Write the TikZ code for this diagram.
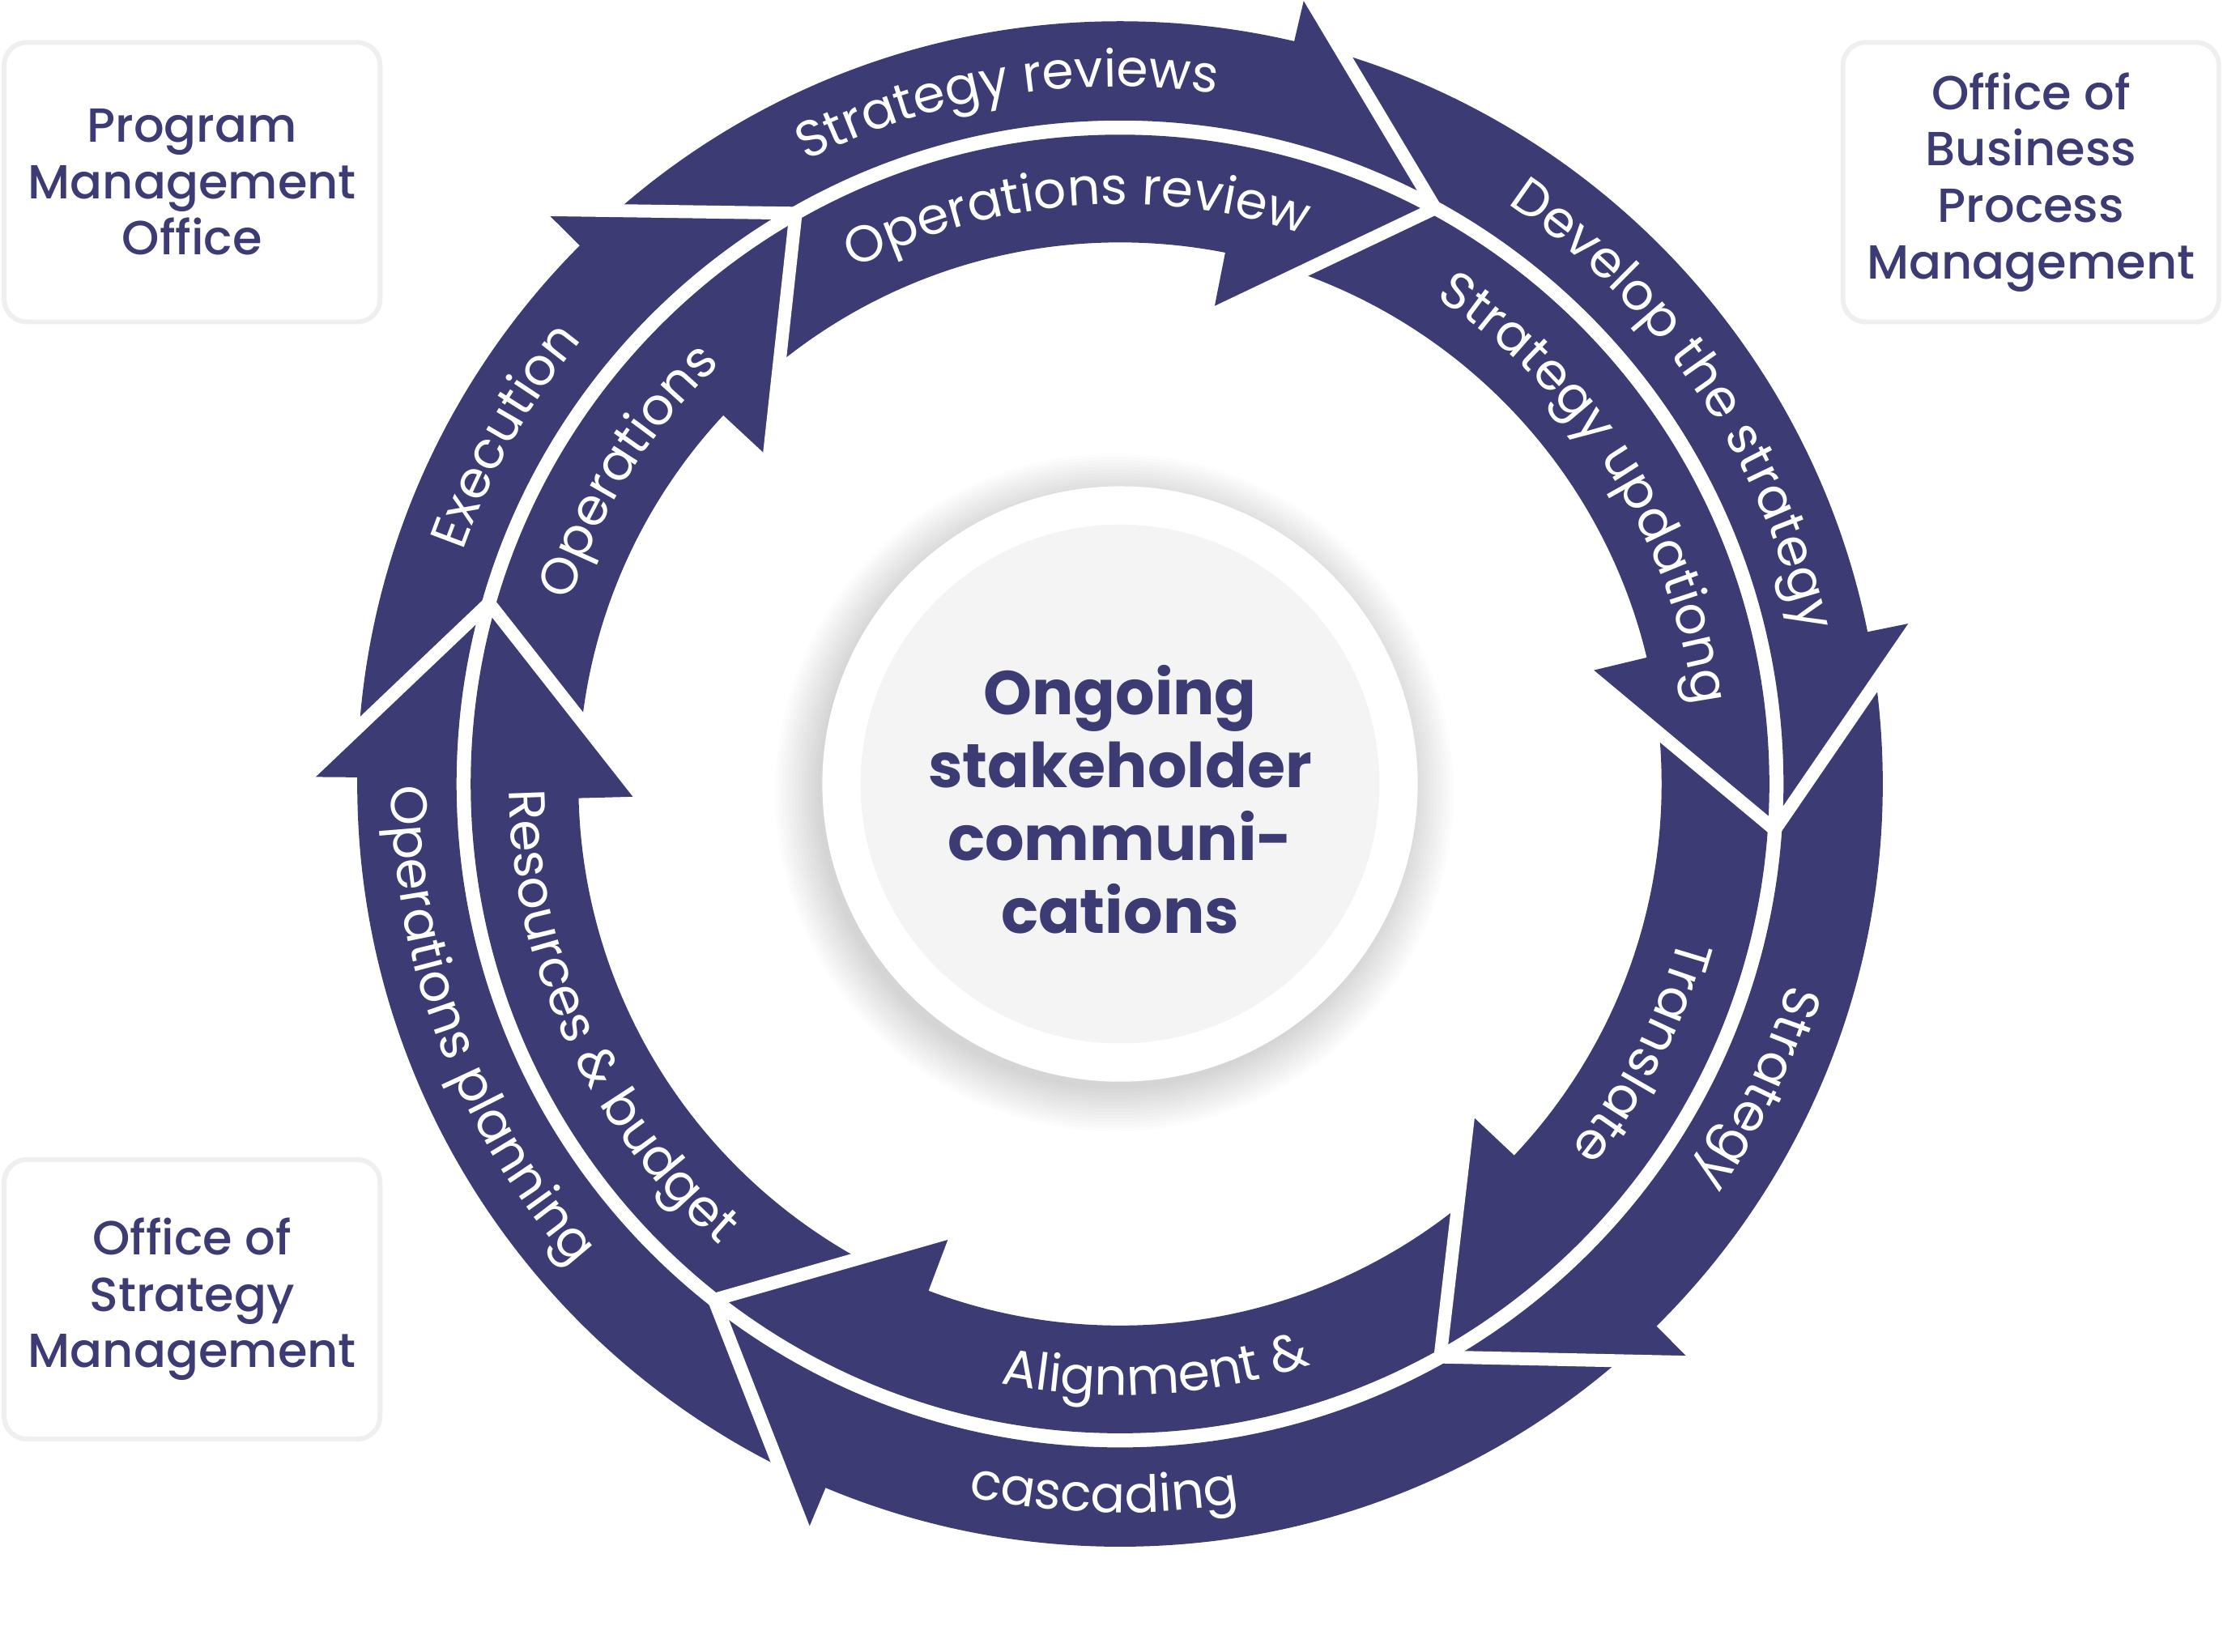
\documentclass[tikz,border=0pt]{standalone}
\usepackage{fontspec}
\setmainfont{Poppins}
\newfontfamily\medfont{Poppins Medium}
\newfontfamily\heavyfont{Poppins Bold}
\usetikzlibrary{decorations.text,calc}
\definecolor{navy}{HTML}{3C3B73}
\definecolor{boxline}{HTML}{EFEFEF}
\definecolor{disk}{HTML}{F4F4F4}
\newcommand\lblfont{\fontsize{18}{20}\selectfont}
\tikzset{
  officebox/.style={draw=boxline, line width=1.7pt, fill=white, rounded corners=0.28cm,
    minimum width=4.64cm, minimum height=3.45cm, align=center, text=navy,
    font=\medfont\fontsize{16.8}{19.8}\selectfont},
  gapline/.style={white, line width=0.16cm},
  cwlabel/.style={decorate, decoration={text along path, text align=center, text color=white, text={|\lblfont|#1}}},
}
\begin{document}
\begin{tikzpicture}[x=0.0175cm,y=0.0175cm]
\useasboundingbox (0,0) rectangle (1568,1165);
\coordinate (C) at (790,612);

% office boxes
\node[officebox] (pmo) at (135.5,1036.5) {Program\\Management\\Office};
\node[officebox] (obpm) at (1432.5,1036.5) {Office of\\Business\\Process\\Management};
\node[officebox] (osm) at (135.5,248.5) {Office of\\Strategy\\Management};

% centre disc with soft shadow
\foreach \i in {1,...,14} \fill[black,opacity=0.012] ($(C)+(-4,-6)$) circle (207+2.3*\i);
\fill[white] (C) circle (210);
\fill[disk] (C) circle (183);
\node[text=navy, align=center, font=\heavyfont\fontsize{21.7}{25.6}\selectfont] (hub) at (790,601)
  {Ongoing\\stakeholder\\communi-\\cations};

% rings
\fill[navy, even odd rule] (C) circle (538) (C) circle (468);
\fill[navy, even odd rule] (C) circle (458) (C) circle (382);

\begin{scope}[shift={(C)}]
\foreach \j in {61.3,-4,-60.8,-128.2,164,119.6} {
  \fill[navy] (\j+15.5:530) -- (\j+15.5:571) -- (\j:463) -- cycle;
  \fill[navy] (\j+17.5:390) -- (\j+17.5:341) -- (\j:463) -- cycle;
}
\foreach \j in {61.3,-4,-60.8,-128.2,164,119.6} {
  \draw[gapline] (\j+15.5:574) -- (\j:463);
  \draw[gapline] (\j+17.5:338) -- (\j:463);
}

% clockwise labels (tops outward)
\path[cwlabel=Strategy reviews] (99.4+50:492) arc[start angle=99.4+50, end angle=99.4-50, radius=492];
\path[cwlabel=Operations review] (94.4+55:409) arc[start angle=94.4+55, end angle=94.4-55, radius=409];
\path[cwlabel=Develop the strategy] (34.4+55:492) arc[start angle=34.4+55, end angle=34.4-55, radius=492];
\path[cwlabel=Strategy updationg] (32.4+60:409) arc[start angle=32.4+60, end angle=32.4-60, radius=409];
\path[cwlabel=Strategy] (-25.5+40:492) arc[start angle=-25.5+40, end angle=-25.5-40, radius=492];
\path[cwlabel=Translate] (-27.2+45:409) arc[start angle=-27.2+45, end angle=-27.2-45, radius=409];
\path[cwlabel=Execution] (150.5+40:492) arc[start angle=150.5+40, end angle=150.5-40, radius=492];
\path[cwlabel=Operations] (147.6+45:409) arc[start angle=147.6+45, end angle=147.6-45, radius=409];
% counter-clockwise labels (tops inward)
\path[cwlabel=cascading] (-91.3-40:514) arc[start angle=-91.3-40, end angle=-91.3+40, radius=514];
\path[cwlabel={Alignment {\&}}] (-86.5-45:431) arc[start angle=-86.5-45, end angle=-86.5+45, radius=431];
\path[cwlabel=Operations planning] (200.8-55:514) arc[start angle=200.8-55, end angle=200.8+55, radius=514];
\path[cwlabel=Resources {\&} budget] (204.8-60:431) arc[start angle=204.8-60, end angle=204.8+60, radius=431];
\end{scope}
\end{tikzpicture}
\end{document}
